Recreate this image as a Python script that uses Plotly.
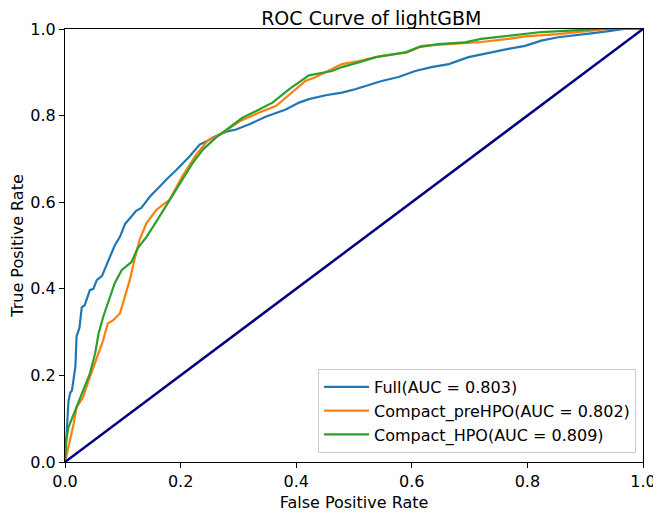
import plotly.graph_objects as go

fpr_full = [0, 0.003, 0.006, 0.009, 0.012, 0.018, 0.020, 0.025, 0.029, 0.034, 0.043, 0.049, 0.055, 0.064, 0.077, 0.086, 0.095, 0.104, 0.115, 0.123, 0.132, 0.147, 0.164, 0.175, 0.193, 0.215, 0.233, 0.244, 0.255, 0.279, 0.296, 0.319, 0.348, 0.382, 0.405, 0.422, 0.451, 0.479, 0.502, 0.520, 0.548, 0.577, 0.606, 0.634, 0.664, 0.698, 0.738, 0.767, 0.796, 0.824, 0.853, 0.882, 0.910, 0.934, 0.951, 0.968, 1.0]
tpr_full = [0, 0.065, 0.14, 0.16, 0.165, 0.22, 0.29, 0.31, 0.357, 0.362, 0.397, 0.40, 0.42, 0.43, 0.47, 0.50, 0.52, 0.55, 0.567, 0.58, 0.587, 0.613, 0.636, 0.652, 0.675, 0.705, 0.733, 0.74, 0.749, 0.763, 0.768, 0.78, 0.798, 0.814, 0.83, 0.838, 0.847, 0.853, 0.861, 0.868, 0.88, 0.889, 0.903, 0.912, 0.919, 0.935, 0.947, 0.954, 0.961, 0.973, 0.981, 0.985, 0.99, 0.994, 0.997, 1.0, 1.0]

fpr_pre = [0, 0.003, 0.009, 0.015, 0.020, 0.031, 0.043, 0.055, 0.066, 0.074, 0.083, 0.095, 0.104, 0.112, 0.120, 0.129, 0.141, 0.158, 0.181, 0.203, 0.227, 0.246, 0.273, 0.302, 0.336, 0.365, 0.393, 0.416, 0.434, 0.479, 0.508, 0.548, 0.592, 0.617, 0.664, 0.720, 0.767, 0.796, 0.853, 0.910, 0.939, 1.0]
tpr_pre = [0, 0.018, 0.049, 0.088, 0.126, 0.149, 0.196, 0.242, 0.281, 0.32, 0.327, 0.343, 0.381, 0.42, 0.466, 0.513, 0.552, 0.582, 0.606, 0.66, 0.71, 0.741, 0.76, 0.787, 0.807, 0.822, 0.854, 0.88, 0.889, 0.919, 0.926, 0.938, 0.946, 0.961, 0.965, 0.97, 0.977, 0.983, 0.988, 0.996, 1.0, 1.0]

fpr_hpo = [0, 0.002, 0.006, 0.015, 0.023, 0.031, 0.043, 0.052, 0.058, 0.066, 0.077, 0.086, 0.098, 0.115, 0.126, 0.141, 0.158, 0.181, 0.203, 0.221, 0.239, 0.261, 0.284, 0.307, 0.330, 0.359, 0.388, 0.405, 0.422, 0.462, 0.479, 0.508, 0.538, 0.589, 0.612, 0.646, 0.692, 0.720, 0.767, 0.824, 0.882, 0.923, 1.0]
tpr_hpo = [0, 0.049, 0.08, 0.11, 0.14, 0.165, 0.204, 0.25, 0.296, 0.335, 0.381, 0.413, 0.443, 0.462, 0.494, 0.52, 0.555, 0.606, 0.652, 0.691, 0.722, 0.749, 0.772, 0.795, 0.81, 0.83, 0.861, 0.877, 0.893, 0.903, 0.912, 0.923, 0.935, 0.946, 0.958, 0.965, 0.969, 0.977, 0.985, 0.993, 0.997, 1.0, 1.0]

diag = [0, 1]
names = ["Full(AUC = 0.803)", "Compact_preHPO(AUC = 0.802)", "Compact_HPO(AUC = 0.809)"]
colors = ["#1f77b4", "#ff7f0e", "#2ca02c"]
tick_vals = [0, 0.2, 0.4, 0.6, 0.8, 1.0]
tick_text = ["0.0", "0.2", "0.4", "0.6", "0.8", "1.0"]

fig = go.Figure()
for xs, ys, nm, c in zip([fpr_full, fpr_pre, fpr_hpo], [tpr_full, tpr_pre, tpr_hpo], names, colors):
    fig.add_trace(go.Scatter(x=xs, y=ys, mode="lines", name=nm, line=dict(color=c, width=2.2)))
fig.add_trace(go.Scatter(x=diag, y=diag, mode="lines", showlegend=False,
                         line=dict(color="#000080", width=2.5)))

axis_common = dict(range=[0, 1], tickvals=tick_vals, ticktext=tick_text, showgrid=False, zeroline=False,
                   showline=True, linecolor="black", linewidth=1, mirror=True,
                   ticks="outside", ticklen=5, tickcolor="black", automargin=False,
                   tickfont=dict(size=16, color="black"))

# page body has an 8px default margin, so the figure is 8px smaller than the window
W, H = 653, 506
ml, mr, mt, mb = 57, 18, 21, 52

fig.update_layout(
    width=W, height=H,
    margin=dict(l=ml, r=mr, t=mt, b=mb),
    plot_bgcolor="white", paper_bgcolor="white",
    font=dict(family="DejaVu Sans", color="black"),
    title=dict(text="ROC Curve of lightGBM", x=(ml + (W - mr)) / 2 / W, xref="paper", xanchor="center",
               y=1 - 10.5 / H, yanchor="middle", font=dict(size=19)),
    xaxis=dict(title=dict(text="False Positive Rate", font=dict(size=16), standoff=6), **axis_common),
    yaxis=dict(title=dict(text="True Positive Rate", font=dict(size=16), standoff=8), **axis_common),
    legend=dict(x=0.988, xanchor="right", y=0.021, yanchor="bottom", itemwidth=45,
                bgcolor="rgba(255,255,255,0.8)", bordercolor="#cccccc", borderwidth=1,
                font=dict(size=16)),
)

fig.write_html("out.html")
